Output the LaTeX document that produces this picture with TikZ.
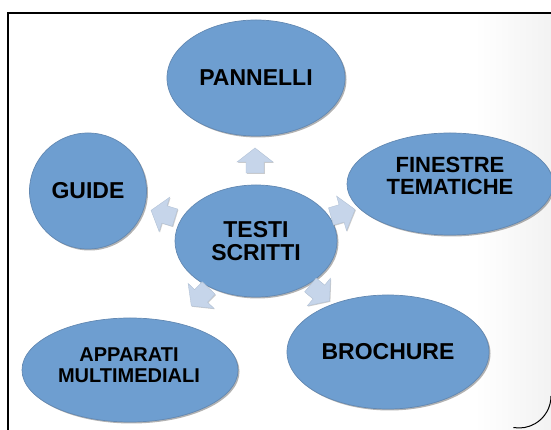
\documentclass[tikz,border=0pt]{standalone}
\usepackage{fontspec}
\setmainfont{Liberation Sans}
\usetikzlibrary{shapes.geometric,shadows}
\definecolor{ellfill}{RGB}{110,158,208}
\definecolor{elldraw}{RGB}{98,136,178}
\definecolor{arrfill}{RGB}{198,213,234}
\definecolor{arrdraw}{RGB}{178,194,214}
\begin{document}
\begin{tikzpicture}[x=1pt,y=1pt,
  bubble/.style={ellipse, fill=ellfill, draw=elldraw, line width=0.7pt, inner sep=0pt,
    drop shadow={shadow xshift=1.5pt, shadow yshift=-1.5pt, opacity=0.3, fill=black}},
  lbl/.style={font=\bfseries\fontsize{23}{23}\selectfont, align=center, text=black, inner sep=0pt},
  blockarrow/.pic={
    \path[fill=arrfill, draw=arrdraw, line width=0.4pt,
      drop shadow={shadow xshift=0.8pt, shadow yshift=-0.8pt, opacity=0.2, fill=black}]
      (12.5,0) -- (-1.5,18) -- (-1.5,9) -- (-12.5,9) -- (-12.5,-9) -- (-1.5,-9) -- (-1.5,-18) -- cycle;
  }]
\useasboundingbox (0,0) rectangle (551,430);
\shade[left color=white, right color=black!5] (475,0) rectangle (551,416);
\draw[line width=1.1pt] (8,0) -- (8,417) -- (551,417);
\draw[line width=1pt] (551,34) arc (0:-100:32);

\node[bubble, minimum width=178pt, minimum height=116pt] (pannelli) at (256,352) {};
\node[bubble, minimum width=117pt, minimum height=116pt] (guide) at (88,239) {};
\node[bubble, minimum width=206pt, minimum height=102pt] (finestre) at (450,246) {};
\node[bubble, minimum width=162pt, minimum height=112pt] (testi) at (256,189) {};
\node[bubble, minimum width=216pt, minimum height=104pt] (apparati) at (130,60) {};
\node[bubble, minimum width=202pt, minimum height=114pt] (brochure) at (388,78) {};

\node[lbl] (tpannelli) at (pannelli) {PANNELLI};
\node[lbl] (tguide) at (guide) {GUIDE};
\node[lbl, font=\bfseries\fontsize{22}{22}\selectfont] (tfinestre) at (450,254) {FINESTRE\\TEMATICHE};
\node[lbl] (ttesti) at (testi) {TESTI\\SCRITTI};
\node[lbl, font=\bfseries\fontsize{20}{21}\selectfont] (tapparati) at (129,65) {APPARATI\\MULTIMEDIALI};
\node[lbl] (tbrochure) at (brochure) {BROCHURE};

\pic[rotate=90] (aup) at (255,269.5) {blockarrow};
\pic[rotate=163] (aguide) at (163,216) {blockarrow};
\pic[rotate=16] (afinestre) at (343,217) {blockarrow};
\pic[rotate=-40] (abrochure) at (320,137) {blockarrow};
\pic[rotate=-134] (aapparati) at (200,133) {blockarrow};
\end{tikzpicture}
\end{document}
